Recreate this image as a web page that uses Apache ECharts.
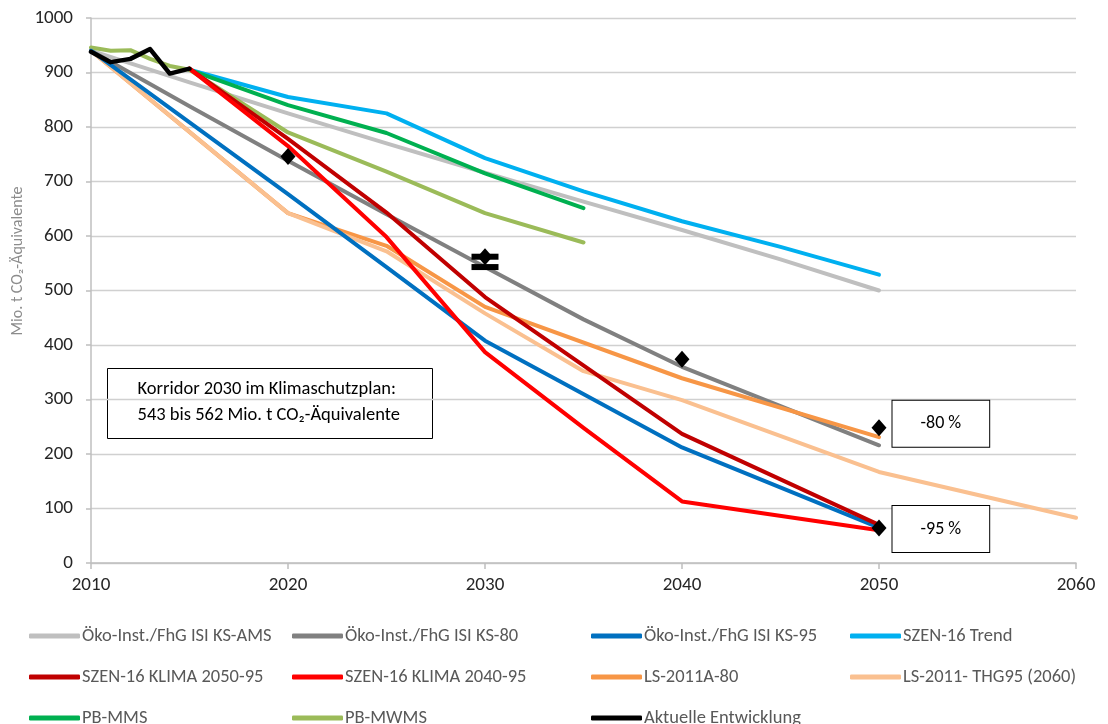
<!DOCTYPE html>
<html><head><meta charset="utf-8">
<script src="https://cdn.jsdelivr.net/npm/echarts@6/dist/echarts.min.js"></script>
<style>html,body{margin:0;padding:0;background:#fff}#c{width:1108px;height:724px}</style>
</head><body><div id="c"></div>
<script>
const FONT = 'Carlito, Lato, "Noto Sans", sans-serif';

// ---- data ----
const xTicks = [2010, 2020, 2030, 2040, 2050, 2060];
const yTicks = [0, 100, 200, 300, 400, 500, 600, 700, 800, 900, 1000];

const amsYears = [2010, 2015, 2020, 2025, 2030, 2035, 2040, 2045, 2050];
const amsVals  = [940, 882, 825, 770, 716, 663, 611, 557, 500];

const ks80Years = [2010, 2015, 2020, 2025, 2030, 2035, 2040, 2045, 2050];
const ks80Vals  = [940, 838, 738, 640, 543, 447, 360, 288, 216];

const ks95Years = [2010, 2020, 2025, 2030, 2040, 2050];
const ks95Vals  = [940, 677, 543, 408, 212, 65];

const trendYears = [2015, 2020, 2025, 2030, 2035, 2040, 2045, 2050];
const trendVals  = [905, 855, 825, 743, 682, 627, 580, 529];

const k2050Years = [2015, 2020, 2025, 2030, 2040, 2050];
const k2050Vals  = [907, 778, 643, 488, 237, 70];

const k2040Years = [2015, 2020, 2025, 2030, 2035, 2040, 2050];
const k2040Vals  = [907, 765, 598, 387, 248, 113, 60];

const lsaYears = [2010, 2020, 2025, 2030, 2040, 2050];
const lsaVals  = [940, 642, 582, 470, 339, 231];

const thgYears = [2010, 2020, 2025, 2030, 2035, 2040, 2050, 2060];
const thgVals  = [940, 642, 572, 458, 352, 299, 167, 83];

const mmsYears = [2015, 2020, 2025, 2030, 2035];
const mmsVals  = [905, 840, 789, 715, 651];

const mwmsYears = [2010, 2011, 2012, 2013, 2014, 2015, 2020, 2025, 2030, 2035];
const mwmsVals  = [946, 940, 941, 925, 912, 905, 790, 718, 642, 588];

const actYears = [2010, 2011, 2012, 2013, 2014, 2015];
const actVals  = [938, 919, 925, 943, 898, 907];

const targetYears = [2020, 2030, 2040, 2050, 2050];
const targetVals  = [746, 562, 374, 248, 64];
const targetLabels = ['', '', '', '-80 %', '-95 %'];

const corridorYears = [2030, 2030];
const corridorVals  = [562, 543];

const names = [
  'Öko-Inst./FhG ISI KS-AMS', 'Öko-Inst./FhG ISI KS-80', 'Öko-Inst./FhG ISI KS-95', 'SZEN-16 Trend',
  'SZEN-16 KLIMA 2050-95', 'SZEN-16 KLIMA 2040-95', 'LS-2011A-80', 'LS-2011- THG95 (2060)',
  'PB-MMS', 'PB-MWMS', 'Aktuelle Entwicklung'
];
const colors = ['#BFBFBF', '#808080', '#0070C0', '#00B0F0', '#C00000', '#FF0000', '#F79646', '#FAC090', '#00B050', '#9BBB59', '#000000'];
const yearsList = [amsYears, ks80Years, ks95Years, trendYears, k2050Years, k2040Years, lsaYears, thgYears, mmsYears, mwmsYears, actYears];
const valsList  = [amsVals, ks80Vals, ks95Vals, trendVals, k2050Vals, k2040Vals, lsaVals, thgVals, mmsVals, mwmsVals, actVals];
const zOrder    = [3, 4, 6, 3, 7, 8, 4, 5, 3, 4, 10];

const pair = (xs, ys) => xs.map((x, i) => [x, ys[i]]);

const series = names.map((n, i) => ({
  name: n, type: 'line', data: pair(yearsList[i], valsList[i]),
  showSymbol: false, symbol: 'none', z: zOrder[i],
  color: colors[i],
  lineStyle: { color: colors[i], width: i === 10 ? 4.5 : 4, cap: 'round', join: 'round' },
  emphasis: { disabled: true }, animation: false
}));

series.push({
  type: 'scatter', z: 12, symbol: 'rect', symbolSize: [27, 6],
  itemStyle: { color: '#000', opacity: 1 }, data: pair(corridorYears, corridorVals), animation: false
});
series.push({
  type: 'scatter', z: 13, symbol: 'diamond', symbolSize: [15, 17],
  itemStyle: { color: '#000', opacity: 1 }, animation: false,
  data: targetYears.map((x, i) => {
    const d = { value: [x, targetVals[i]] };
    if (targetLabels[i]) {
      d.label = {
        show: true, position: 'right', distance: 6, formatter: targetLabels[i],
        color: '#000', fontFamily: FONT, fontSize: 18, lineHeight: 18,
        backgroundColor: '#fff', borderColor: '#000', borderWidth: 1,
        padding: [14, 28, 14, 28], offset: [0, i === 3 ? -4 : 1]
      };
    }
    return d;
  })
});

const legendCols = [
  { left: 24,  data: [names[0], names[4], names[8]] },
  { left: 287, data: [names[1], names[5], names[9]] },
  { left: 586, data: [names[2], names[6], names[10]] },
  { left: 845, data: [names[3], names[7]] }
];

const chart = echarts.init(document.getElementById('c'));
chart.setOption({
  animation: false,
  backgroundColor: '#fff',
  grid: { left: 91, right: 32, top: 18, bottom: 161, containLabel: false },
  xAxis: {
    type: 'value', min: 2010, max: 2060, interval: 10,
    axisLine: { show: true, lineStyle: { color: '#BFBFBF', width: 1.5 } },
    axisTick: { show: true, length: 6, lineStyle: { color: '#BFBFBF', width: 1.5 } },
    splitLine: { show: false },
    axisLabel: { color: '#262626', fontFamily: FONT, fontSize: 19, margin: 13,
      formatter: v => xTicks.includes(v) ? String(v) : '' }
  },
  yAxis: {
    type: 'value', min: 0, max: 1000, interval: 100,
    axisLine: { show: true, lineStyle: { color: '#BFBFBF', width: 1.5 } },
    axisTick: { show: true, length: 5, lineStyle: { color: '#BFBFBF', width: 1.5 } },
    splitLine: { show: true, lineStyle: { color: '#D0D0D0', width: 1.4 } },
    axisLabel: { color: '#262626', fontFamily: FONT, fontSize: 19, margin: 18,
      formatter: v => yTicks.includes(v) ? String(v) : '' }
  },
  legend: legendCols.map(c => ({
    orient: 'vertical', left: c.left, top: 621, height: 120, data: c.data,
    itemWidth: 51, itemHeight: 5, itemGap: 21, icon: 'roundRect',
    selectedMode: false,
    textStyle: { color: '#595959', fontFamily: FONT, fontSize: 18.5, lineHeight: 20, padding: [0, 0, 0, -3] }
  })),
  graphic: [
    { type: 'text', x: 18, y: 261, rotation: Math.PI / 2, z: 20,
      style: { text: 'Mio. t CO₂-Äquivalente', fill: '#8C8C8C', font: '16px ' + FONT, align: 'center', verticalAlign: 'middle' } },
    { type: 'group', left: 107, top: 368, z: 20, children: [
      { type: 'rect', shape: { x: 0, y: 0, width: 325, height: 70 },
        style: { fill: '#fff', stroke: '#000', lineWidth: 1 } },
      { type: 'text', x: 30, y: 21, style: { text: 'Korridor 2030 im Klimaschutzplan:', fill: '#000', font: '18.5px ' + FONT, verticalAlign: 'middle' } },
      { type: 'text', x: 30, y: 47, style: { text: '543 bis 562 Mio. t CO₂-Äquivalente', fill: '#000', font: '18.5px ' + FONT, verticalAlign: 'middle' } }
    ] }
  ],
  series: series
});
</script>
</body></html>
